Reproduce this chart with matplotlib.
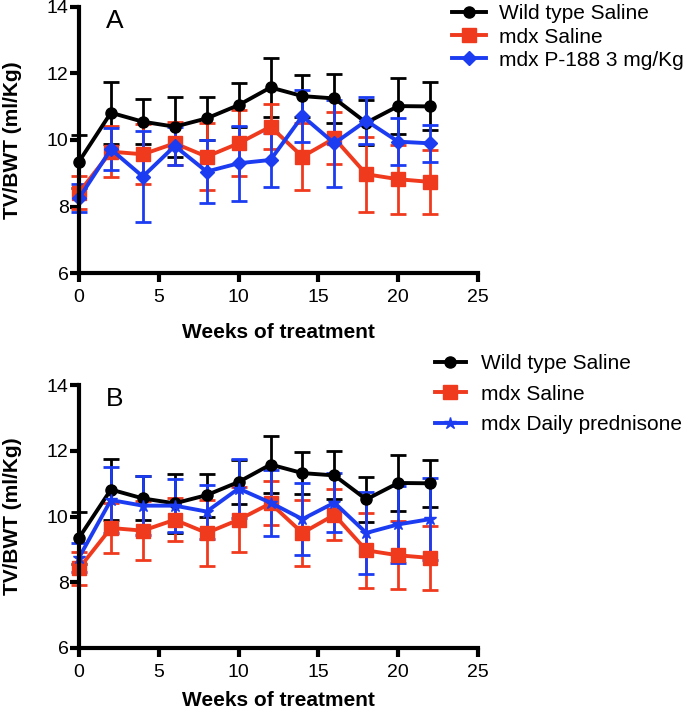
import matplotlib
matplotlib.use("Agg")
from matplotlib import pyplot as plt

plt.rcParams["font.family"] = ["Liberation Sans", "DejaVu Sans"]

weeks = [0, 2, 4, 6, 8, 10, 12, 14, 16, 18, 20, 22]

# Wild type Saline (same in both panels)
wt_mean = [9.35, 10.82, 10.55, 10.40, 10.65, 11.05, 11.58, 11.32, 11.25, 10.52, 11.02, 11.01]
wt_sd = [0.80, 0.93, 0.67, 0.90, 0.65, 0.67, 0.88, 0.64, 0.73, 0.68, 0.84, 0.72]

# mdx Saline (same in both panels)
mdx_mean = [8.42, 9.65, 9.57, 9.90, 9.50, 9.90, 10.40, 9.50, 10.05, 8.97, 8.82, 8.74]
mdx_sd = [0.50, 0.76, 0.90, 0.65, 1.00, 0.99, 0.67, 1.00, 0.78, 1.13, 1.04, 0.97]

# mdx P-188 3 mg/Kg (panel A)
p188_mean = [8.25, 9.72, 8.90, 9.82, 9.05, 9.30, 9.40, 10.72, 9.90, 10.58, 9.95, 9.90]
p188_sd = [0.43, 0.63, 1.37, 0.58, 0.95, 1.13, 0.80, 0.78, 1.30, 0.71, 0.70, 0.55]

# mdx Daily prednisone (panel B)
pred_mean = [8.75, 10.50, 10.33, 10.33, 10.15, 10.85, 10.42, 9.92, 10.42, 9.50, 9.76, 9.92]
pred_sd = [0.45, 1.00, 0.90, 0.80, 0.82, 0.90, 1.00, 1.10, 0.90, 1.24, 1.16, 1.25]

BLACK = "#000000"
RED = "#f03a1e"
BLUE = "#1c3cf2"


def draw_series(ax, y, err, color, marker, ms, label):
    ax.errorbar(weeks, y, yerr=err, color=color, marker=marker, markersize=ms,
                linewidth=2.8, elinewidth=2.0, capsize=5.5, capthick=2.0,
                label=label, clip_on=False)


def style_axes(ax, letter, xpad):
    ax.set_xlim(0, 25)
    ax.set_ylim(6, 14)
    ax.set_xticks([0, 5, 10, 15, 20, 25])
    ax.set_yticks([6, 8, 10, 12, 14])
    for side in ["top", "right"]:
        ax.spines[side].set_visible(False)
    for side in ["left", "bottom"]:
        ax.spines[side].set_linewidth(3)
    ax.tick_params(width=3, length=6.5, labelsize=14)
    ax.tick_params(axis="x", pad=5)
    ax.tick_params(axis="y", pad=1)
    ax.set_xlabel("Weeks of treatment", fontsize=15, fontweight="bold", labelpad=xpad)
    ax.set_ylabel("TV/BWT (ml/Kg)", fontsize=15, fontweight="bold", labelpad=18)
    ax.text(2.25, 13.95, letter, fontsize=19, va="top", ha="center")


fig = plt.figure(figsize=(6.9, 7.12), dpi=100)
W, H = 690.0, 712.0
axA = fig.add_axes([79 / W, 1 - 273 / H, 399 / W, 266 / H])
axB = fig.add_axes([79 / W, 1 - 648 / H, 399 / W, 263 / H])

draw_series(axA, wt_mean, wt_sd, BLACK, "o", 8, "Wild type Saline")
draw_series(axA, mdx_mean, mdx_sd, RED, "s", 10, "mdx Saline")
draw_series(axA, p188_mean, p188_sd, BLUE, "D", 7, "mdx P-188 3 mg/Kg")
style_axes(axA, "A", 12)

draw_series(axB, wt_mean, wt_sd, BLACK, "o", 8, "Wild type Saline")
draw_series(axB, mdx_mean, mdx_sd, RED, "s", 10, "mdx Saline")
draw_series(axB, pred_mean, pred_sd, BLUE, "*", 9, "mdx Daily prednisone")
style_axes(axB, "B", 7)

legend_opts = [
    (axA, (444 / W, 1 + 4 / H), 1.6, 0.62, 0.2),
    (axB, (427 / W, 1 - 346 / H), 1.45, 0.72, 0.55),
]
for ax, anchor, hlen, hpad, lspace in legend_opts:
    handles, labels = ax.get_legend_handles_labels()
    handles = [h[0] for h in handles]
    fig.legend(handles, labels, loc="upper left", bbox_to_anchor=anchor,
               frameon=False, fontsize=15, handlelength=hlen, handletextpad=hpad,
               labelspacing=lspace, borderaxespad=0)

fig.savefig("out.png", dpi=100)
